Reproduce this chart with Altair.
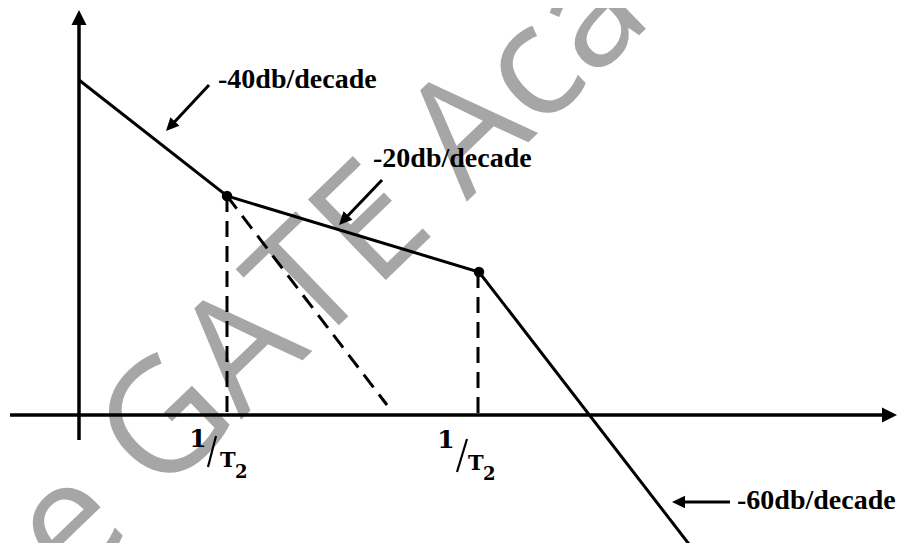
import math
import altair as alt
import pandas as pd

# Coordinate system: x = position along the frequency axis (0 at the vertical axis),
# y = magnitude (0 at the frequency axis). Units.

# Asymptotic magnitude curve (-40, -20, -60 dB/decade segments)
curve_x = [0, 148, 400, 613]
curve_y = [335, 219, 143, -133]

# Corner (break) points
break_x = [148, 400]
break_y = [219, 143]

# Dashed construction lines
dash_x = [148, 399, 148]
dash_y = [219, 143, 219]
dash_x2 = [148, 399, 308]
dash_y2 = [0, 0, 10]

# Axes (shafts) and their arrow tips
axis_x = [-69, 0]
axis_y = [0, -25]
axis_x2 = [803, 0]
axis_y2 = [0, 390]
axis_tip_x = [818, 0]
axis_tip_y = [0, 405]
axis_from_x = [-69, 0]
axis_from_y = [0, -25]

# Annotation arrows (tail -> tip) and labels
ann_tail_x = [130, 303, 651]
ann_tail_y = [330, 235, -87]
ann_tip_x = [87, 260, 593]
ann_tip_y = [284, 190, -87]
ann_text = ["-40db/decade", "-20db/decade", "-60db/decade"]
ann_text_x = [139, 294, 658]
ann_text_y = [327, 248, -94]

# Corner-frequency tick labels "1/T2"
one_x = [119, 367]
one_y = [-32, -33]
slash_x = [129, 378]
slash_y = [-52, -57]
slash_x2 = [137, 388]
slash_y2 = [-21, -24]
t_x = [141, 389]
t_y = [-52, -55]
sub_x = [156, 404]
sub_y = [-63, -65]

# Watermark
wm_main_x, wm_main_y = 80, -84
wm_pre_x, wm_pre_y = 55, -115

X = alt.Scale(domain=[-71, 819], nice=False, zero=False)
Y = alt.Scale(domain=[-128, 407], nice=False, zero=False)


def xq(f):
    return alt.X(f, type="quantitative", scale=X, axis=None)


def yq(f):
    return alt.Y(f, type="quantitative", scale=Y, axis=None)


def head_frame(tail_x, tail_y, tip_x, tip_y, length, back):
    rows = []
    for sx, sy, tx, ty in zip(tail_x, tail_y, tip_x, tip_y):
        dx, dy = tx - sx, ty - sy
        n = math.hypot(dx, dy)
        ux, uy = dx / n, dy / n
        ang = math.degrees(math.atan2(ux, uy)) % 360  # pixel dir = (ux, -uy)
        rows.append(dict(
            hx=tx - ux * length / 2, hy=ty - uy * length / 2, angle=ang,
            sx=sx, sy=sy, ex=tx - ux * back, ey=ty - uy * back))
    return pd.DataFrame(rows)


ann_heads = head_frame(ann_tail_x, ann_tail_y, ann_tip_x, ann_tip_y, 13, 10)
axis_heads = head_frame(axis_from_x, axis_from_y, axis_tip_x, axis_tip_y, 15, 14)

wm_angle = 316
wm_main = alt.Chart(pd.DataFrame({"x": [wm_main_x], "y": [wm_main_y], "t": ["GATE Academy"]})).mark_text(
    font="Open Sans", fontSize=157, color="#a6a6a6", align="left", baseline="alphabetic", angle=wm_angle
).encode(x=xq("x"), y=yq("y"), text="t:N")
wm_pre = alt.Chart(pd.DataFrame({"x": [wm_pre_x], "y": [wm_pre_y], "t": ["The"]})).mark_text(
    font="Open Sans", fontSize=157, color="#a6a6a6", align="right", baseline="alphabetic", angle=wm_angle
).encode(x=xq("x"), y=yq("y"), text="t:N")

axes = alt.Chart(pd.DataFrame({"x": axis_x, "y": axis_y, "x2": axis_x2, "y2": axis_y2})).mark_rule(
    color="black", strokeWidth=3.5
).encode(x=xq("x"), y=yq("y"), x2="x2:Q", y2="y2:Q")

axis_arrow = alt.Chart(axis_heads).mark_point(
    shape="M0,-1L-1,1L1,1Z", filled=True, color="black", opacity=1, size=225
).encode(x=xq("hx"), y=yq("hy"), angle=alt.Angle("angle:Q", scale=None))

curve = alt.Chart(pd.DataFrame({"x": curve_x, "y": curve_y, "o": list(range(len(curve_x)))})).mark_line(
    color="black", strokeWidth=3
).encode(x=xq("x"), y=yq("y"), order="o:Q")

dashed = alt.Chart(pd.DataFrame({"x": dash_x, "y": dash_y, "x2": dash_x2, "y2": dash_y2})).mark_rule(
    color="black", strokeWidth=3, strokeDash=[16, 9]
).encode(x=xq("x"), y=yq("y"), x2="x2:Q", y2="y2:Q")

dots = alt.Chart(pd.DataFrame({"x": break_x, "y": break_y})).mark_point(
    shape="circle", filled=True, color="black", opacity=1, size=110
).encode(x=xq("x"), y=yq("y"))

shafts = alt.Chart(ann_heads).mark_rule(color="black", strokeWidth=3).encode(
    x=xq("sx"), y=yq("sy"), x2="ex:Q", y2="ey:Q")

heads = alt.Chart(ann_heads).mark_point(
    shape="M0,-1L-0.95,1L0.95,1Z", filled=True, color="black", opacity=1, size=169
).encode(x=xq("hx"), y=yq("hy"), angle=alt.Angle("angle:Q", scale=None))

labels = alt.Chart(pd.DataFrame({"x": ann_text_x, "y": ann_text_y, "t": ann_text})).mark_text(
    font="Liberation Serif", fontWeight="bold", fontSize=28, color="black", align="left", baseline="alphabetic"
).encode(x=xq("x"), y=yq("y"), text="t:N")

ones = alt.Chart(pd.DataFrame({"x": one_x, "y": one_y, "t": ["1", "1"]})).mark_text(
    font="DejaVu Serif", fontWeight="bold", fontSize=25, color="black", align="center", baseline="alphabetic"
).encode(x=xq("x"), y=yq("y"), text="t:N")

slashes = alt.Chart(pd.DataFrame({"x": slash_x, "y": slash_y, "x2": slash_x2, "y2": slash_y2})).mark_rule(
    color="black", strokeWidth=2.2
).encode(x=xq("x"), y=yq("y"), x2="x2:Q", y2="y2:Q")

ts = alt.Chart(pd.DataFrame({"x": t_x, "y": t_y, "t": ["T", "T"]})).mark_text(
    font="DejaVu Serif", fontWeight="bold", fontSize=21, color="black", align="left", baseline="alphabetic"
).encode(x=xq("x"), y=yq("y"), text="t:N")

subs = alt.Chart(pd.DataFrame({"x": sub_x, "y": sub_y, "t": ["2", "2"]})).mark_text(
    font="DejaVu Serif", fontWeight="bold", fontSize=18, color="black", align="left", baseline="alphabetic"
).encode(x=xq("x"), y=yq("y"), text="t:N")

chart = alt.layer(
    wm_pre, wm_main, axes, axis_arrow, curve, dashed, dots, shafts, heads, labels, ones, slashes, ts, subs
).properties(
    width=890, height=535, padding=0,
    autosize=alt.AutoSizeParams(type="none"),
    background="white",
).configure_view(stroke=None)

chart.save("out.html", embed_options={"renderer": "svg", "actions": False})
